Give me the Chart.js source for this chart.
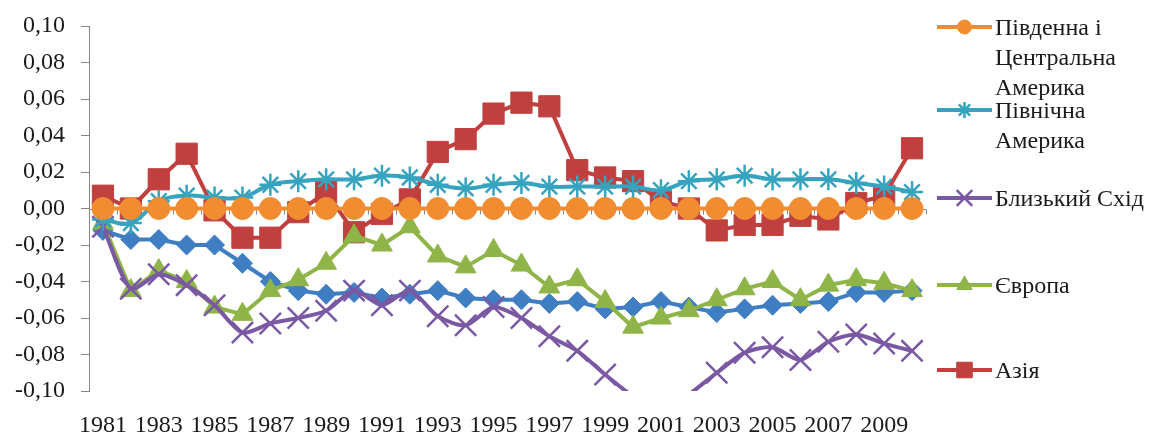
<!DOCTYPE html>
<html lang="uk">
<head>
<meta charset="utf-8">
<title>Регіональні відхилення, 1981–2010</title>
<script src="https://cdn.jsdelivr.net/npm/chart.js@4.4.1/dist/chart.umd.min.js"></script>
<style>
  html, body { margin: 0; padding: 0; background: #ffffff; }
  #wrap { position: relative; width: 1172px; height: 435px; overflow: hidden; background: #ffffff; }
  #chart { position: absolute; left: 0; top: 0; }
  .lg-item { position: absolute; left: 937px; display: flex; align-items: flex-start; }
  .lg-item canvas { flex: none; margin-top: 5px; }
  .lg-text { margin-left: 3px; font-family: "Liberation Serif", "Times New Roman", serif; font-size: 24px; line-height: 30px; color: #1a1a1a; white-space: nowrap; }
</style>
</head>
<body>
<div id="wrap">
  <canvas id="chart" width="1172" height="435"></canvas>
  <div id="legend"></div>
</div>
<script>
// Years on the horizontal axis
const years = [1981, 1982, 1983, 1984, 1985, 1986, 1987, 1988, 1989, 1990,
               1991, 1992, 1993, 1994, 1995, 1996, 1997, 1998, 1999, 2000,
               2001, 2002, 2003, 2004, 2005, 2006, 2007, 2008, 2009, 2010];

// Series values by region
const southCentralAmerica = [0, 0, 0, 0, 0, 0, 0, 0, 0, 0,
                             0, 0, 0, 0, 0, 0, 0, 0, 0, 0,
                             0, 0, 0, 0, 0, 0, 0, 0, 0, 0];
const northAmerica = [-0.006, -0.008, 0.004, 0.007, 0.006, 0.006, 0.013, 0.015, 0.016, 0.016,
                      0.018, 0.017, 0.013, 0.011, 0.013, 0.014, 0.012, 0.012, 0.012, 0.012,
                      0.010, 0.015, 0.016, 0.018, 0.016, 0.016, 0.016, 0.014, 0.012, 0.009];
const middleEast = [-0.010, -0.044, -0.036, -0.042, -0.053, -0.068, -0.063, -0.060, -0.056, -0.045,
                    -0.053, -0.045, -0.059, -0.064, -0.054, -0.060, -0.070, -0.078, -0.091, -0.103,
                    -0.112, -0.102, -0.090, -0.079, -0.076, -0.083, -0.073, -0.069, -0.074, -0.078];
const europe = [-0.008, -0.045, -0.034, -0.040, -0.054, -0.058, -0.045, -0.039, -0.030, -0.015,
                -0.020, -0.010, -0.026, -0.032, -0.023, -0.031, -0.043, -0.039, -0.051, -0.065,
                -0.060, -0.056, -0.050, -0.044, -0.040, -0.050, -0.042, -0.039, -0.041, -0.045];
const asia = [0.007, 0.000, 0.016, 0.030, -0.001, -0.016, -0.016, -0.002, 0.009, -0.013,
              -0.003, 0.005, 0.031, 0.038, 0.052, 0.058, 0.056, 0.021, 0.017, 0.015,
              0.004, 0.000, -0.012, -0.009, -0.009, -0.004, -0.006, 0.003, 0.007, 0.033];
const africa = [-0.012, -0.017, -0.017, -0.020, -0.020, -0.030, -0.040, -0.045, -0.047, -0.046,
                -0.049, -0.047, -0.045, -0.049, -0.050, -0.050, -0.052, -0.051, -0.055, -0.054,
                -0.051, -0.054, -0.057, -0.055, -0.053, -0.052, -0.051, -0.046, -0.046, -0.045];

// Value axis range and tick step
const yMin = -0.10;
const yMax = 0.10;
const yStep = 0.02;

// Legend captions, one array entry per printed line
const legendLines = {
  southCentral: ['Південна і', 'Центральна', 'Америка'],
  north: ['Північна', 'Америка'],
  middleEast: ['Близький Схід'],
  europe: ['Європа'],
  asia: ['Азія']
};

const FONT = '"Liberation Serif", "Times New Roman", serif';
const TEXT = '#1a1a1a';
const AXIS = '#868686';

function fmt(v) {
  if (Math.abs(v) < 1e-9) v = 0;
  return v.toFixed(2).replace('.', ',');
}

function series(key, label, data, color, style, radius, lineStyleWidth, order, extra) {
  return Object.assign({
    key, label, data,
    borderColor: color,
    backgroundColor: color,
    pointBackgroundColor: color,
    pointBorderColor: color,
    pointStyle: style,
    pointRadius: ctx => (ctx.raw < yMin || ctx.raw > yMax) ? 0 : radius,
    pointHoverRadius: radius,
    pointBorderWidth: lineStyleWidth,
    borderWidth: 4,
    tension: 0,
    fill: false,
    order
  }, extra || {});
}

const datasets = [
  series('southCentral', 'Південна і Центральна Америка', southCentralAmerica, '#F28C30', 'circle', 11, 1, 0, { legendRadius: 7 }),
  series('north', 'Північна Америка', northAmerica, '#36A3BF', 'star', 11, 2.5, 1, { tension: 0.4, legendRadius: 8 }),
  series('middleEast', 'Близький Схід', middleEast, '#7B58A3', 'crossRot', 15, 2.5, 2, { tension: 0.25, legendRadius: 11 }),
  series('europe', 'Європа', europe, '#8FB548', 'triangle', 12, 1, 3, { legendRadius: 9 }),
  series('africa', 'Африка', africa, '#3F7EC3', 'rectRot', 10, 1, 4, { inLegend: false }),
  series('asia', 'Азія', asia, '#C0403F', 'rect', 15, 1, 5, { legendRadius: 11 })
];

// Horizontal zero line with category tick marks hanging below it
const zeroAxis = {
  id: 'zeroAxis',
  beforeDatasetsDraw(chart) {
    const x = chart.scales.x, y = chart.scales.y, area = chart.chartArea;
    const y0 = Math.round(y.getPixelForValue(0)) + 0.5;
    const ctx = chart.ctx;
    ctx.save();
    ctx.strokeStyle = AXIS;
    ctx.lineWidth = 1;
    ctx.beginPath();
    ctx.moveTo(area.left, y0);
    ctx.lineTo(area.right, y0);
    for (let i = 0; i <= years.length; i++) {
      const px = Math.round(x.getPixelForValue(i - 0.5)) + 0.5;
      ctx.moveTo(px, y0);
      ctx.lineTo(px, y0 + 5);
    }
    ctx.stroke();
    ctx.restore();
  }
};

const chart = new Chart(document.getElementById('chart'), {
  type: 'line',
  data: { labels: years.map(String), datasets },
  options: {
    responsive: false,
    animation: false,
    events: [],
    layout: { padding: { top: 26, right: 246, bottom: 0, left: 0 } },
    plugins: { legend: { display: false }, tooltip: { enabled: false } },
    scales: {
      x: {
        type: 'category',
        offset: true,
        grid: { display: false, drawTicks: false },
        border: { display: false },
        ticks: {
          autoSkip: false,
          maxRotation: 0,
          minRotation: 0,
          padding: 20,
          color: TEXT,
          font: { family: FONT, size: 24 },
          callback: function (value, index) { return index % 2 === 0 ? this.getLabelForValue(value) : ''; }
        },
        afterFit: scale => { scale.height = 44; }
      },
      y: {
        min: yMin,
        max: yMax,
        grid: { display: true, drawOnChartArea: false, drawTicks: true, tickLength: 8, color: AXIS, lineWidth: 1 },
        border: { display: true, color: AXIS, width: 1 },
        ticks: {
          stepSize: yStep,
          padding: 16,
          color: TEXT,
          font: { family: FONT, size: 24 },
          callback: v => fmt(v)
        },
        afterFit: scale => {
          scale.width = 89;
          scale.paddingTop = 0;
          scale.paddingBottom = 0;
        }
      }
    }
  },
  plugins: [zeroAxis]
});

// Legend beside the plot, built from the datasets
const legendTops = { southCentral: 12, north: 95, middleEast: 183, europe: 270, asia: 355 };
const legendOrder = ['southCentral', 'north', 'middleEast', 'europe', 'asia'];
const legendEl = document.getElementById('legend');
legendOrder.forEach(key => {
  const ds = datasets.find(d => d.key === key);
  const item = document.createElement('div');
  item.className = 'lg-item';
  item.style.top = legendTops[key] + 'px';
  const sw = document.createElement('canvas');
  sw.width = 55; sw.height = 20;
  const c = sw.getContext('2d');
  c.strokeStyle = ds.borderColor;
  c.lineWidth = 4;
  c.beginPath(); c.moveTo(0, 10); c.lineTo(55, 10); c.stroke();
  c.fillStyle = ds.pointBackgroundColor;
  c.strokeStyle = ds.pointBorderColor;
  c.lineWidth = ds.pointBorderWidth;
  if (Chart.helpers && Chart.helpers.drawPoint) {
    Chart.helpers.drawPoint(c, { pointStyle: ds.pointStyle, radius: ds.legendRadius, borderWidth: ds.pointBorderWidth, rotation: 0 }, 27.5, 10);
  }
  const txt = document.createElement('div');
  txt.className = 'lg-text';
  txt.innerHTML = legendLines[key].join('<br>');
  item.appendChild(sw);
  item.appendChild(txt);
  legendEl.appendChild(item);
});
</script>
</body>
</html>
